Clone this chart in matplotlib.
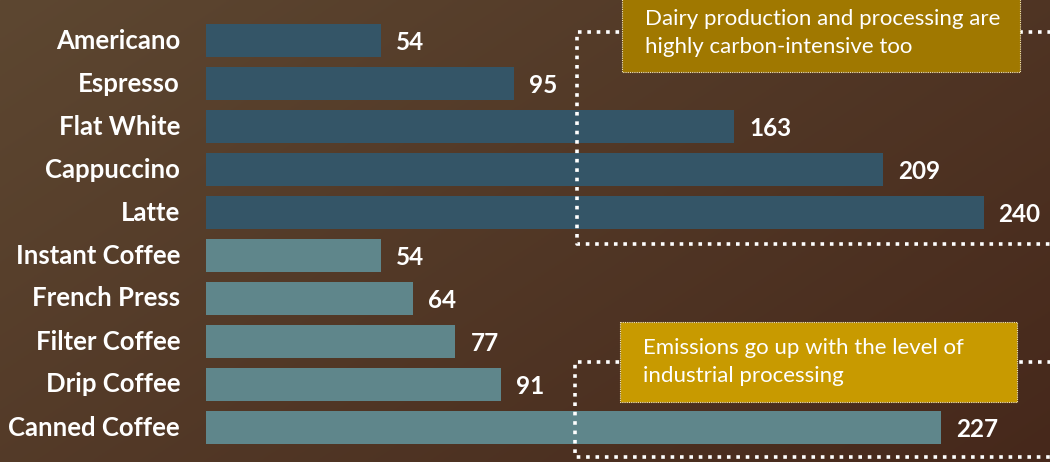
import numpy as np
import matplotlib
matplotlib.use("Agg")
import matplotlib.pyplot as plt
from matplotlib.patches import Rectangle

categories = ["Americano", "Espresso", "Flat White", "Cappuccino", "Latte",
              "Instant Coffee", "French Press", "Filter Coffee", "Drip Coffee", "Canned Coffee"]
values = [54, 95, 163, 209, 240, 54, 64, 77, 91, 227]
groups = ["milk"] * 5 + ["plain"] * 5
group_colors = {"milk": "#345567", "plain": "#5F868B"}
note_dairy = "Dairy production and processing are\nhighly carbon-intensive too"
note_process = "Emissions go up with the level of\nindustrial processing"

W, H = 1050, 462
fig = plt.figure(figsize=(W / 100, H / 100), dpi=100)

# background gradient
bg = fig.add_axes([0, 0, 1, 1], zorder=0)
bg.set_axis_off()
yy, xx = np.mgrid[0:1:200j, 0:1:400j]
t = (xx * 0.6 + yy * 0.4)
c0 = np.array([93, 71, 49]) / 255
c1 = np.array([70, 40, 27]) / 255
img = c0[None, None, :] * (1 - t[..., None]) + c1[None, None, :] * t[..., None]
bg.imshow(img, extent=[0, 1, 0, 1], aspect="auto", origin="upper")
bg.set_xlim(0, 1)
bg.set_ylim(0, 1)

px_per_unit = 3.24
x0 = 206
pitch = 43.0
c_first = 40.5

ax = fig.add_axes([x0 / W, 0, 1 - x0 / W, 1], zorder=1)
ax.patch.set_alpha(0)
ax.set_xlim(0, (W - x0) / px_per_unit)
ax.set_ylim((H - c_first) / pitch, -c_first / pitch)
ypos = np.arange(len(categories))
ax.barh(ypos, values, height=0.77, color=[group_colors[g] for g in groups], zorder=2)
for y, v in zip(ypos, values):
    ax.text(v + 15 / px_per_unit, y + 0.04, str(v), ha="left", va="center",
            color="white", fontsize=17.5, fontweight="bold", family="Lato", zorder=5)
for y, c in zip(ypos, categories):
    ax.text(-26 / px_per_unit, y, c, ha="right", va="center", color="white",
            fontsize=18.5, fontweight="bold", family="Lato", clip_on=False, zorder=5)
ax.set_axis_off()

# overlay in pixel coordinates
ov = fig.add_axes([0, 0, 1, 1], zorder=3)
ov.set_axis_off()
ov.patch.set_alpha(0)
ov.set_xlim(0, W)
ov.set_ylim(H, 0)

dot = dict(color="white", lw=2.6, linestyle=(0, (1, 1.6)), dash_capstyle="butt", zorder=3)
# dotted frame 1
ov.plot([W + 10, 577, 577, W + 10], [31.7, 31.7, 243.5, 243.5], **dot)
# dotted frame 2
ov.plot([W + 10, 575, 575, W + 10], [361.7, 361.7, 456.7, 456.7], **dot)

# annotation boxes
ov.add_patch(Rectangle((621.7, -5), 398.3, 76.7, facecolor="#A07800",
                       edgecolor="#F2E6C0", lw=0.8, linestyle=(0, (1, 1)), zorder=4))
ov.text(645, 33, note_dairy, ha="left", va="center", color="white",
        fontsize=16, family="Lato", linespacing=1.5, zorder=5)
ov.add_patch(Rectangle((619.5, 321.7), 397.8, 80, facecolor="#C89A00",
                       edgecolor="#F2E6C0", lw=0.8, linestyle=(0, (1, 1)), zorder=4))
ov.text(643, 362, note_process, ha="left", va="center", color="white",
        fontsize=16, family="Lato", linespacing=1.5, zorder=5)

fig.savefig("out.png", dpi=100)
